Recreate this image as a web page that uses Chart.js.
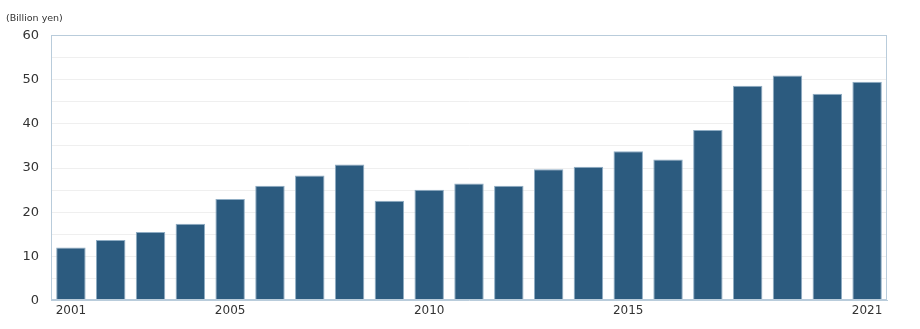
<!DOCTYPE html>
<html>
<head>
<meta charset="utf-8">
<script src="https://cdn.jsdelivr.net/npm/chart.js@4"></script>
<style>
html,body{margin:0;padding:0;background:#fff;}
#wrap{width:920px;height:329px;position:relative;}
</style>
</head>
<body>
<div id="wrap"><canvas id="c" width="920" height="329"></canvas></div>
<script>
const years = ['2001','2002','2003','2004','2005','2006','2007','2008','2009','2010','2011','2012','2013','2014','2015','2016','2017','2018','2019','2020','2021'];
const values = [12.0,13.7,15.5,17.4,23.0,26.0,28.3,30.8,22.6,25.1,26.5,26.0,29.7,30.3,33.8,31.9,38.6,48.6,50.9,46.8,49.5];
const shownYears = ['2001','2005','2010','2015','2021'];
const unitLabel = '(Billion yen)';

const borderColor = '#b9ccdb';
const frame = {
  id: 'frame',
  afterDraw(chart) {
    const a = chart.chartArea, ctx = chart.ctx;
    ctx.save();
    ctx.strokeStyle = borderColor;
    ctx.lineWidth = 1;
    ctx.strokeRect(Math.round(a.left) + 0.5, Math.round(a.top) + 0.5, Math.round(a.right - a.left) - 1, Math.round(a.bottom - a.top) - 1);
    ctx.restore();
  }
};

new Chart(document.getElementById('c'), {
  type: 'bar',
  data: {
    labels: years,
    datasets: [{
      data: values,
      backgroundColor: '#2c5b7f',
      borderColor: '#8fadc4',
      borderWidth: 1,
      barPercentage: 0.74,
      categoryPercentage: 1.0
    }]
  },
  options: {
    responsive: false,
    animation: false,
    layout: { padding: { left: 6, right: 33, top: 0, bottom: 8 } },
    plugins: {
      legend: { display: false },
      tooltip: { enabled: false },
      title: {
        display: true,
        text: unitLabel,
        align: 'start',
        color: '#333',
        font: { family: 'DejaVu Sans', size: 9.5, weight: 'normal' },
        padding: { top: 13, bottom: 11 }
      }
    },
    scales: {
      x: {
        grid: { display: false, drawTicks: false },
        border: { display: true, color: borderColor },
        ticks: {
          autoSkip: false, maxRotation: 0, padding: 3,
          color: '#333',
          font: { family: 'DejaVu Sans', size: 12 },
          callback: function(v) { const l = this.getLabelForValue(v); return shownYears.includes(l) ? l : ''; }
        }
      },
      y: {
        min: 0, max: 60,
        afterFit(scale) { scale.width = 45; },
        grid: { color: '#efefef', drawTicks: false },
        border: { display: true, color: borderColor },
        ticks: {
          stepSize: 5, padding: 12,
          color: '#333',
          font: { family: 'DejaVu Sans', size: 13 },
          callback: v => (v % 10 === 0 ? v : '')
        }
      }
    }
  },
  plugins: [frame]
});
</script>
</body>
</html>
